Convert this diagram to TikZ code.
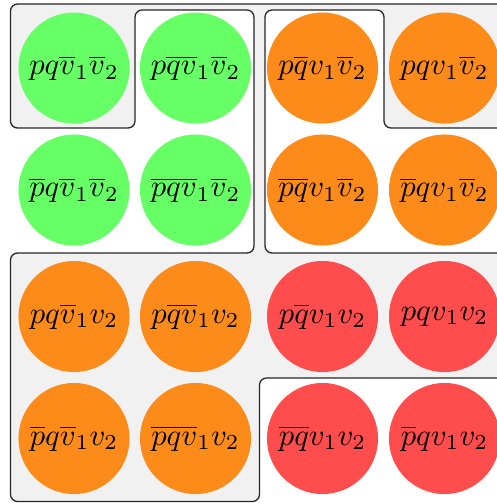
\documentclass[tikz,border=0pt]{standalone}
\definecolor{cgreen}{RGB}{102,255,102}
\definecolor{corange}{RGB}{253,139,26}
\definecolor{cred}{RGB}{255,77,77}
\definecolor{cgray}{RGB}{241,241,241}
\begin{document}
\begin{tikzpicture}[x=0.3268pt,y=-0.3268pt,
  frame/.style={draw=black!85,line width=0.42pt,rounded corners=2.3pt},
  cell/.style={circle,inner sep=0pt,minimum size=36.3pt}]
\useasboundingbox (0,0) rectangle (497,503);
\clip (0,0) rectangle (497,503);
\fill[cgray,rounded corners=2.3pt] (540,4) -- (10.5,4) -- (10.5,128) -- (135,128) -- (135,10) -- (254,10) -- (254,253) -- (10.5,253) -- (10.5,501.5) -- (259.5,501.5) -- (259.5,378) -- (540,378) -- cycle;
\fill[white,rounded corners=2.3pt] (540,128) -- (384,128) -- (384,10) -- (265,10) -- (265,253) -- (540,253) -- cycle;
\draw[frame] (540,4) -- (10.5,4) -- (10.5,128) -- (135,128) -- (135,10) -- (254,10) -- (254,253) -- (10.5,253) -- (10.5,501.5) -- (259.5,501.5) -- (259.5,378) -- (540,378);
\draw[frame] (540,128) -- (384,128) -- (384,10) -- (265,10) -- (265,253) -- (540,253);
% row 1
\node[cell,fill=cgreen] (n11) at (74,68) {$pq\overline{v}_1\overline{v}_2$};
\node[cell,fill=cgreen] (n12) at (195.5,68) {$p\overline{q}\overline{v}_1\overline{v}_2$};
\node[cell,fill=corange] (n13) at (322.5,68) {$p\overline{q}v_1\overline{v}_2$};
\node[cell,fill=corange] (n14) at (444.5,68) {$pqv_1\overline{v}_2$};
% row 2
\node[cell,fill=cgreen] (n21) at (74,190) {$\overline{p}q\overline{v}_1\overline{v}_2$};
\node[cell,fill=cgreen] (n22) at (195.5,190) {$\overline{p}\overline{q}\overline{v}_1\overline{v}_2$};
\node[cell,fill=corange] (n23) at (322.5,190) {$\overline{p}\overline{q}v_1\overline{v}_2$};
\node[cell,fill=corange] (n24) at (444.5,190) {$\overline{p}qv_1\overline{v}_2$};
% row 3
\node[cell,fill=corange] (n31) at (74,316.5) {$pq\overline{v}_1v_2$};
\node[cell,fill=corange] (n32) at (195.5,316.5) {$p\overline{q}\overline{v}_1v_2$};
\node[cell,fill=cred] (n33) at (322.5,316.5) {$p\overline{q}v_1v_2$};
\node[cell,fill=cred] (n34) at (444.5,316.5) {$pqv_1v_2$};
% row 4
\node[cell,fill=corange] (n41) at (74,438.5) {$\overline{p}q\overline{v}_1v_2$};
\node[cell,fill=corange] (n42) at (195.5,438.5) {$\overline{p}\overline{q}\overline{v}_1v_2$};
\node[cell,fill=cred] (n43) at (322.5,438.5) {$\overline{p}\overline{q}v_1v_2$};
\node[cell,fill=cred] (n44) at (444.5,438.5) {$\overline{p}qv_1v_2$};
\end{tikzpicture}
\end{document}
